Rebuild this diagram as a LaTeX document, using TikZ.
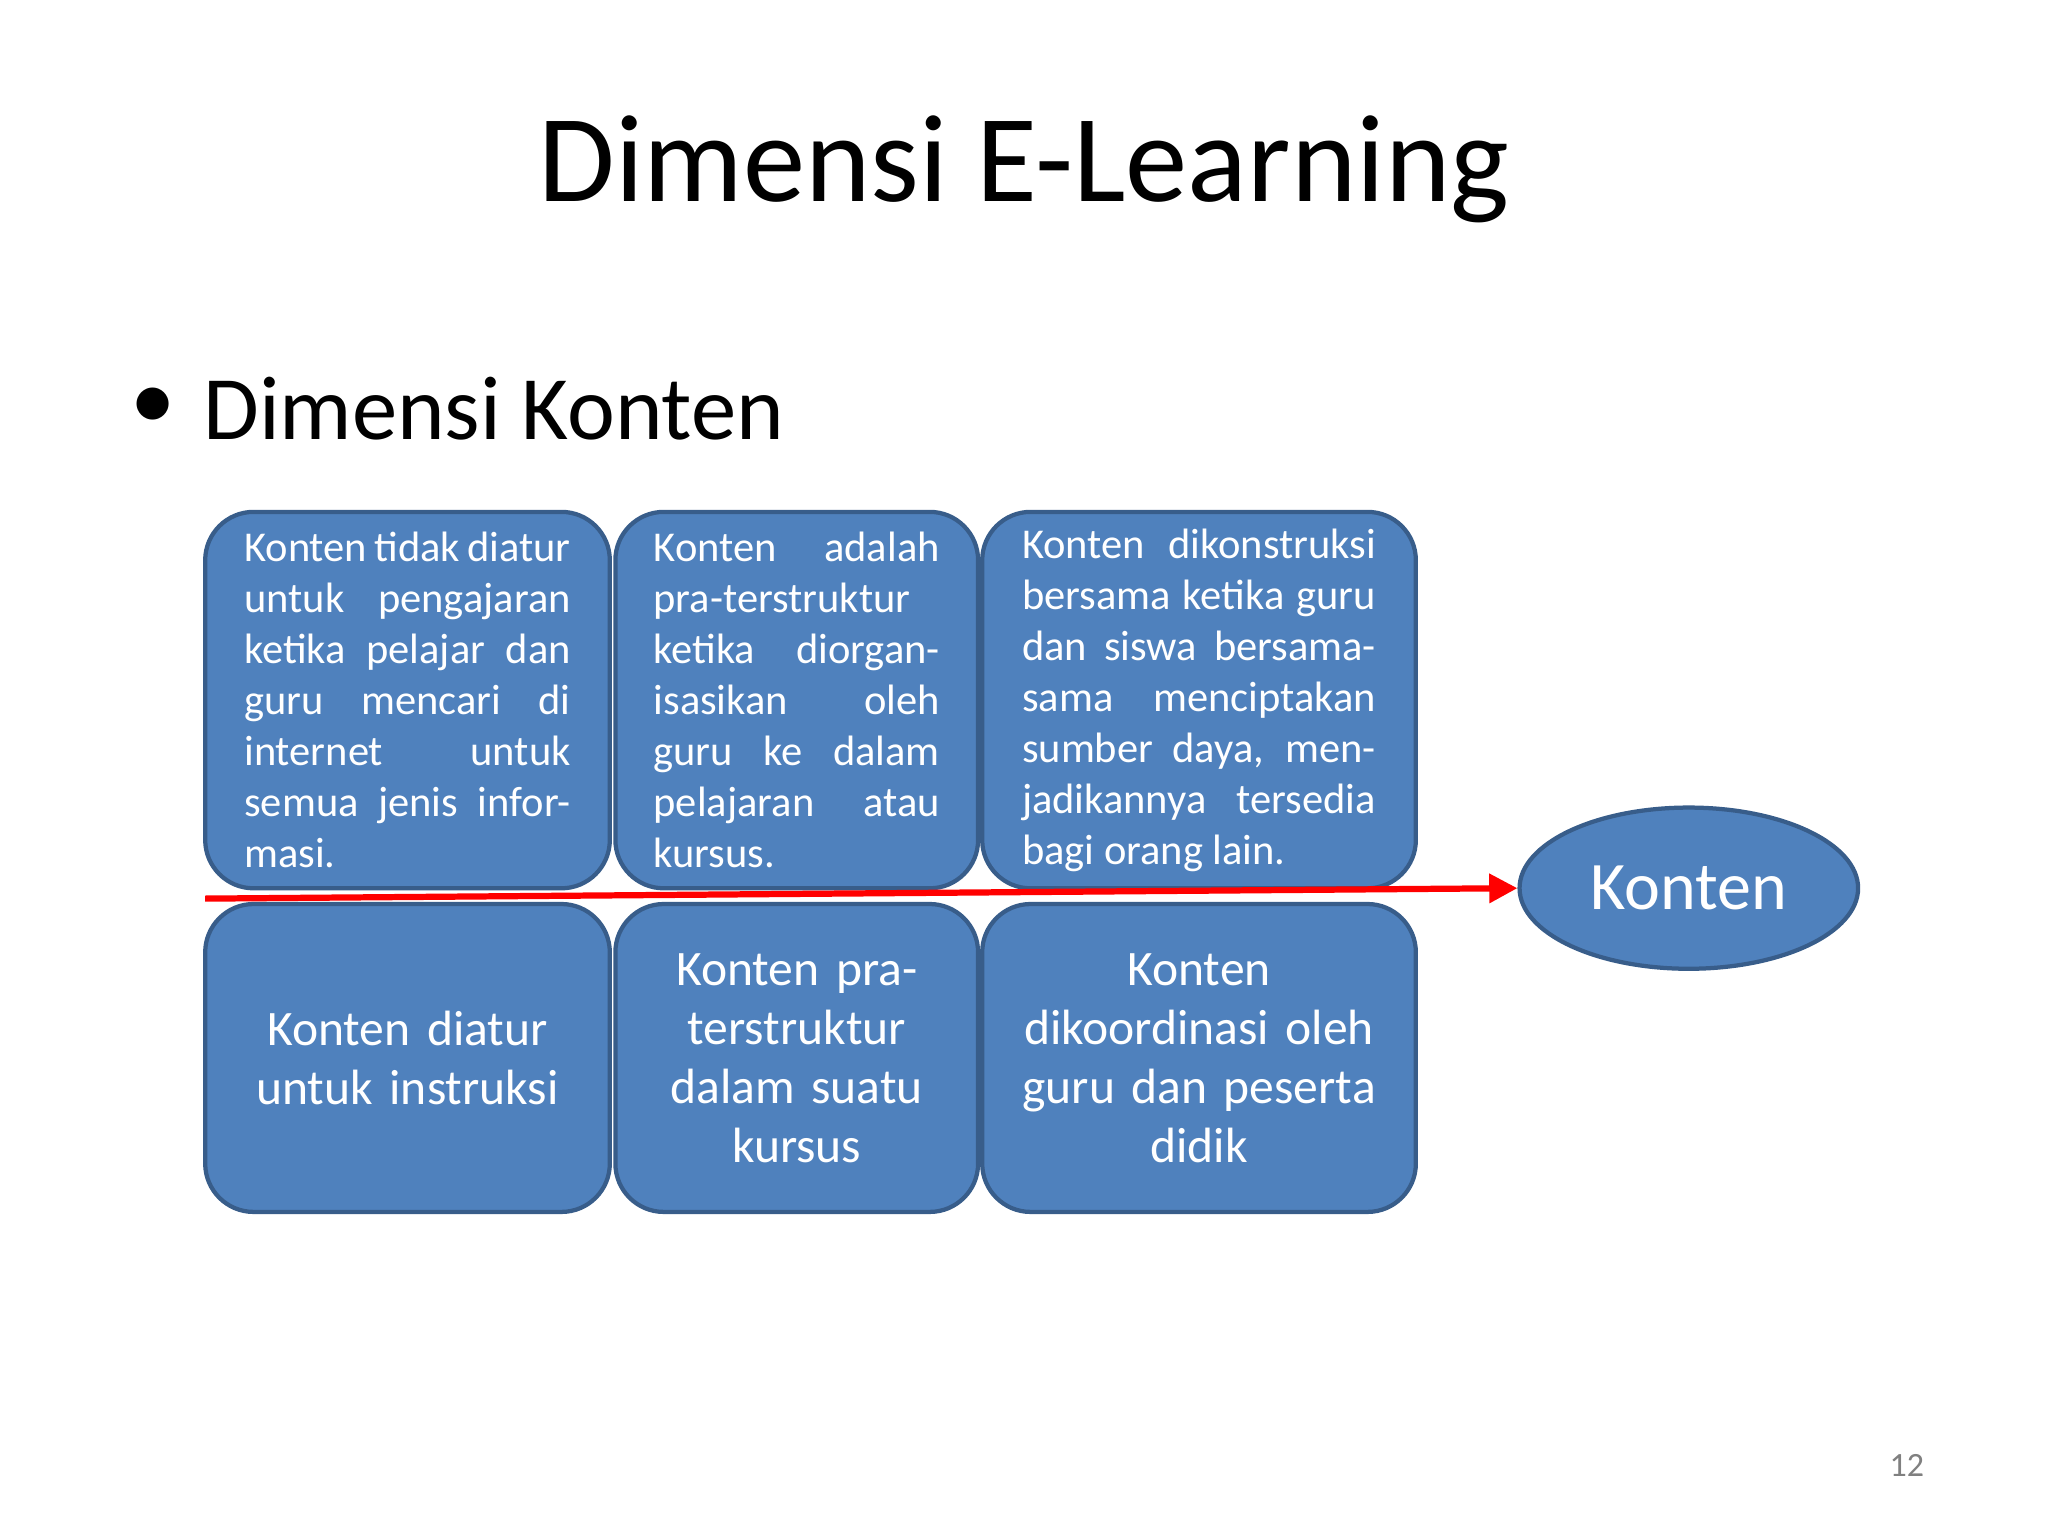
\documentclass[tikz,border=0pt]{standalone}
\usepackage{fontspec}
\setmainfont{Carlito}
\usetikzlibrary{shapes.geometric,arrows.meta}
\definecolor{boxfill}{HTML}{4F81BD}
\definecolor{boxline}{HTML}{385D8A}
\tikzset{
 card/.style={draw=boxline,line width=1.5pt,fill=boxfill,rounded corners=0.6cm,inner sep=0pt},
 small/.style={text=white,align=justify,font=\fontsize{15}{18}\selectfont},
 big/.style={text=white,align=center,font=\fontsize{17.5}{20.8}\selectfont},
}
\begin{document}
\begin{tikzpicture}[x=0.0162cm,y=-0.0162cm]
\useasboundingbox[fill=white] (0,0) rectangle (1568,1176);
\node (title) at (784,130) {\fontsize{44}{50}\selectfont Dimensi E-Learning};
\node[anchor=west] (bul) at (92,313) {\fontsize{32}{38}\selectfont\textbullet};
\node[anchor=west] (sub) at (148,313) {\fontsize{32}{38}\selectfont Dimensi Konten};
% upper
\node[card,minimum width=5.02cm,minimum height=4.67cm] (u1) at (312,536) {};
\node[card,minimum width=4.50cm,minimum height=4.67cm] (u2) at (610,536) {};
\node[card,minimum width=5.38cm,minimum height=4.67cm] (u3) at (918,536) {};
\node[small,text width=4.05cm] (t1) at (u1) {Konten tidak diatur untuk pengajaran ketika pelajar dan guru mencari di internet untuk semua jenis informasi.};
\node[small,text width=3.55cm] (t2) at (u2) {Konten adalah pra-terstruktur ketika diorganisasikan oleh guru ke dalam pelajaran atau kursus.};
\node[small,text width=4.39cm] (t3) at (918,536) {Konten dikonstruksi bersama ketika guru dan siswa bersama-sama menciptakan sumber daya, menjadikannya tersedia bagi orang lain.};
% lower
\node[card,minimum width=5.02cm,minimum height=3.82cm] (l1) at (312,810) {};
\node[card,minimum width=4.50cm,minimum height=3.82cm] (l2) at (610,810) {};
\node[card,minimum width=5.38cm,minimum height=3.82cm] (l3) at (918,810) {};
\node[big,text width=4.3cm] at (l1) {Konten diatur\\untuk instruksi};
\node[big,text width=4.0cm] at (l2) {Konten pra-\\terstruktur\\dalam suatu\\kursus};
\node[big,text width=4.8cm] at (l3) {Konten\\dikoordinasi oleh\\guru dan peserta\\didik};
% ellipse
\node[ellipse,draw=boxline,line width=1.5pt,fill=boxfill,minimum width=4.2cm,minimum height=2.0cm,text=white,font=\fontsize{24}{28}\selectfont] (k) at (1293,680) {Konten};
\coordinate (s) at (157,688);
\draw[red,line width=2.2pt,-{Triangle[length=0.35cm,width=0.35cm]}] (s) -- (k.west);
\node[text=gray] (pg) at (1460,1122) {\fontsize{12}{14}\selectfont 12};
\end{tikzpicture}
\end{document}
